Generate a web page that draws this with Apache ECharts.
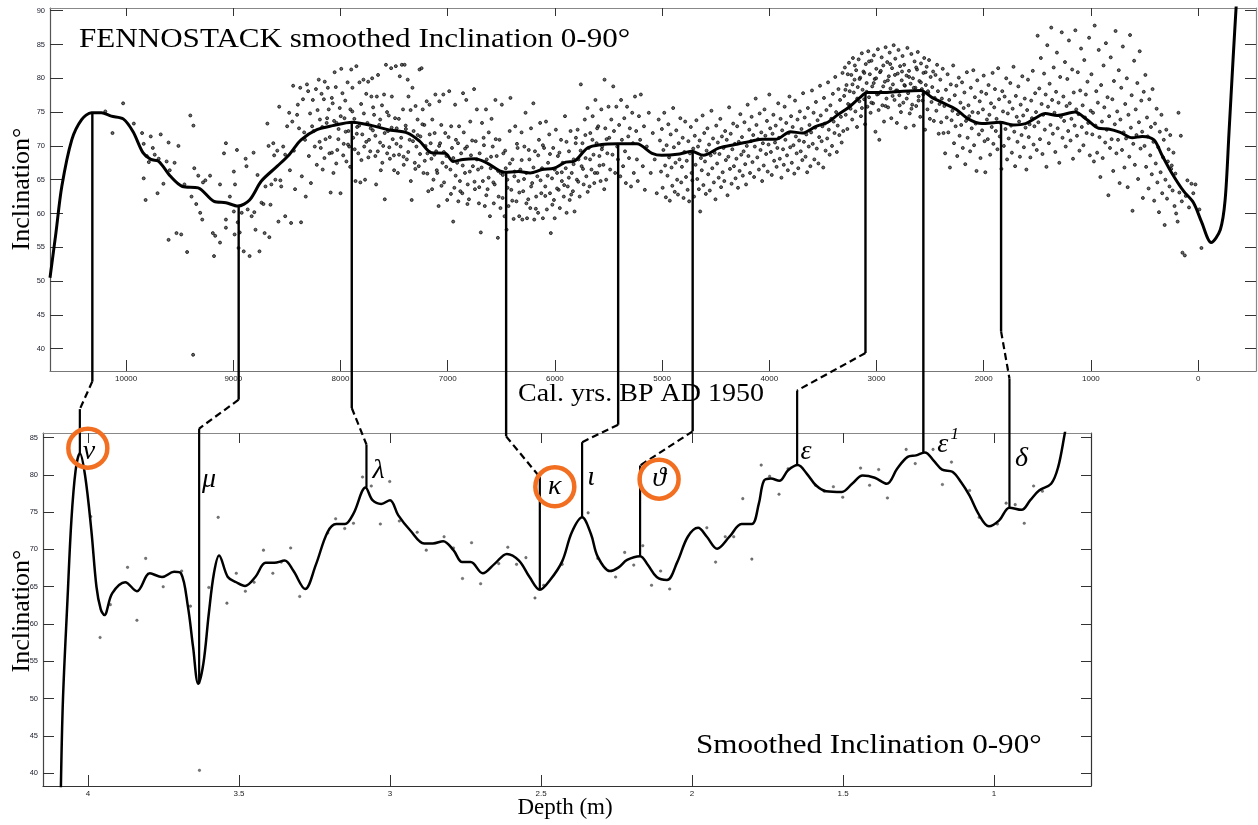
<!DOCTYPE html>
<html>
<head>
<meta charset="utf-8">
<script src="https://cdn.jsdelivr.net/npm/echarts@6/dist/echarts.min.js"></script>
<style>
html,body{margin:0;padding:0;background:#fff;}
#chart{width:1258px;height:825px;}
</style>
</head>
<body>
<div id="chart"></div>
<script>
// ---- axis ticks ----
const ageTicks = [10000, 9000, 8000, 7000, 6000, 5000, 4000, 3000, 2000, 1000, 0];
const depthTicks = [4, 3.5, 3, 2.5, 2, 1.5, 1];
const stackIncTicks = [40, 45, 50, 55, 60, 65, 70, 75, 80, 85, 90];
const coreIncTicks = [40, 45, 50, 55, 60, 65, 70, 75, 80, 85];

// ---- FENNOSTACK: smoothed inclination (cal. yrs BP, inclination) ----
const stackCurve = [[10710,50.5],[10655,57.1],[10600,64],[10507,70.9],[10415,73.9],[10323,74.9],[10230,74.9],[10138,74.4],[10027,74],[9935,72.1],[9843,69],[9770,68],[9696,67.7],[9586,65.5],[9475,64],[9328,63.8],[9180,61.8],[9069,61.6],[8958,61.1],[8848,62],[8738,64.8],[8590,67],[8479,68.7],[8368,70.9],[8220,72.4],[8073,73],[7889,73.5],[7705,73],[7557,72.4],[7373,71.9],[7262,70.7],[7152,69],[7023,68.9],[6949,67.7],[6857,68],[6746,68.1],[6636,67.5],[6470,66.1],[6340,66.2],[6230,66],[6119,66.5],[6009,66.7],[5898,67.6],[5824,67.7],[5696,69.7],[5566,70.2],[5418,70.3],[5235,70.3],[5094,68.9],[5003,68.6],[4837,68.8],[4726,69.2],[4615,68.6],[4468,69.7],[4320,70.2],[4172,70.7],[4062,71],[3933,71],[3804,72.1],[3693,71.9],[3564,72.9],[3454,73.5],[3362,74.6],[3251,75.8],[3159,77.1],[3085,77.9],[2920,77.9],[2754,78.1],[2588,78.2],[2477,77.1],[2384,76.4],[2256,75.4],[2145,74],[2016,73.3],[1850,73.5],[1721,73.1],[1610,73.3],[1518,74.1],[1426,74.8],[1315,74.5],[1149,75],[1039,73.9],[928,72.6],[836,72.5],[726,72],[615,71.2],[522,71.4],[412,70.9],[339,68.7],[246,66],[135,63.3],[43,61.6],[-31,58.8],[-122,55.7],[-207,57.6],[-252,62],[-288,71.9],[-326,82.8],[-360,92]];

// ---- FENNOSTACK: individual inclination values ----
const stackPoints = [[10194,75.1],[10028,76.3],[10127,71.9],[9928,73.3],[9851,71.9],[9836,70.3],[9836,65.2],[9818,62.0],[9770,71.4],[9751,69.7],[9733,68.7],[9807,68.5],[9788,67.6],[9696,68.1],[9677,71.7],[9707,63.0],[9652,64.4],[9622,67.7],[9604,70.5],[9593,66.4],[9604,56.1],[9548,67.5],[9530,57.1],[9512,70.0],[9486,56.9],[9456,64.3],[9431,54.3],[9401,74.5],[9390,62.5],[9375,39.1],[9372,73.0],[9364,66.7],[9346,61.4],[9327,65.6],[9309,60.1],[9290,59.1],[9283,64.6],[9261,64.9],[9217,65.6],[9191,57.1],[9180,53.7],[9169,56.7],[9124,55.7],[9124,64.3],[9087,68.9],[9069,70.4],[9069,59.1],[9069,57.9],[9032,62.5],[8995,66.2],[8995,60.3],[8988,56.9],[8984,64.3],[8966,69.4],[8959,58.7],[8951,54.9],[8940,57.2],[8922,60.1],[8903,54.4],[8885,68.1],[8877,67.0],[8866,60.6],[8848,53.7],[8829,59.6],[8811,69.0],[8804,60.2],[8793,57.6],[8774,65.7],[8756,54.4],[8737,61.6],[8719,61.4],[8708,57.1],[8700,64.0],[8682,73.3],[8671,70.0],[8664,56.5],[8653,61.3],[8645,64.3],[8627,70.4],[8619,68.6],[8608,65.0],[8590,69.3],[8579,58.8],[8572,75.8],[8561,64.9],[8553,64.0],[8535,69.9],[8516,59.6],[8516,68.7],[8498,72.9],[8479,74.9],[8472,66.4],[8461,58.6],[8450,73.6],[8442,78.9],[8435,69.3],[8424,63.6],[8405,74.6],[8398,76.1],[8387,72.6],[8376,78.6],[8368,58.7],[8361,65.5],[8350,76.9],[8339,72.0],[8331,70.9],[8324,62.5],[8313,79.1],[8302,78.1],[8295,68.5],[8284,74.8],[8276,64.5],[8265,72.9],[8258,76.8],[8251,72.2],[8240,69.9],[8229,78.4],[8221,67.2],[8214,75.3],[8203,79.8],[8192,73.9],[8184,69.7],[8177,77.7],[8166,66.5],[8155,76.9],[8147,79.5],[8140,71.0],[8129,73.4],[8118,78.6],[8110,75.4],[8103,68.9],[8092,63.1],[8081,77.1],[8073,76.3],[8066,66.0],[8055,80.9],[8044,78.7],[8037,73.4],[8030,69.4],[8018,72.5],[8007,75.6],[8000,63.0],[7993,81.4],[7982,77.8],[7970,70.3],[7963,74.1],[7956,76.7],[7945,67.7],[7934,79.4],[7926,72.2],[7919,69.9],[7908,75.4],[7900,81.3],[7889,78.6],[7882,71.2],[7871,74.0],[7860,64.8],[7852,81.8],[7845,72.8],[7834,68.9],[7823,79.4],[7815,64.6],[7808,76.2],[7797,71.7],[7786,79.8],[7779,69.9],[7771,65.0],[7760,77.7],[7749,73.4],[7742,79.5],[7734,70.9],[7723,69.2],[7712,77.3],[7705,80.0],[7698,72.3],[7687,74.6],[7675,68.5],[7668,64.3],[7661,77.3],[7650,80.5],[7639,73.1],[7631,70.5],[7624,66.4],[7613,76.0],[7602,70.0],[7594,77.6],[7587,62.1],[7576,82.0],[7565,68.9],[7557,72.2],[7550,74.5],[7539,68.1],[7528,81.5],[7521,77.3],[7513,71.0],[7502,68.6],[7491,74.1],[7484,81.8],[7476,72.6],[7465,66.0],[7454,68.7],[7447,80.3],[7439,69.9],[7428,82.0],[7417,75.4],[7410,67.2],[7402,82.0],[7392,73.0],[7381,68.0],[7373,79.8],[7366,77.3],[7355,70.9],[7344,64.8],[7336,62.0],[7329,78.6],[7318,72.2],[7307,67.5],[7300,75.9],[7292,69.9],[7281,73.9],[7270,67.0],[7263,81.3],[7255,71.4],[7244,81.5],[7233,75.4],[7226,66.0],[7218,73.1],[7207,70.0],[7196,76.6],[7189,68.9],[7181,63.3],[7170,76.1],[7159,70.4],[7152,68.1],[7144,73.9],[7133,65.0],[7122,71.9],[7115,77.6],[7108,69.2],[7097,66.0],[7085,61.1],[7078,76.6],[7071,70.4],[7060,73.1],[7049,67.5],[7041,77.6],[7034,64.6],[7023,71.9],[7012,68.5],[7005,62.0],[6986,78.1],[6975,66.5],[6968,72.9],[6960,69.7],[6949,58.8],[6938,63.8],[6931,76.1],[6923,70.9],[6912,67.5],[6901,61.8],[6894,72.9],[6886,64.8],[6875,68.9],[6864,63.0],[6857,77.8],[6850,72.0],[6839,66.0],[6827,76.8],[6820,69.9],[6813,64.3],[6802,62.1],[6790,73.6],[6783,68.6],[6765,67.0],[6754,78.4],[6746,63.6],[6739,70.7],[6728,75.4],[6717,66.5],[6709,61.5],[6702,68.9],[6691,57.2],[6680,73.4],[6672,64.8],[6665,71.2],[6654,61.1],[6643,75.4],[6636,68.0],[6628,63.6],[6617,72.0],[6606,59.6],[6599,66.7],[6591,74.0],[6580,69.9],[6570,61.5],[6562,64.3],[6555,76.8],[6543,68.5],[6532,56.4],[6525,62.5],[6517,70.9],[6506,66.0],[6495,76.1],[6488,62.3],[6481,68.9],[6470,59.6],[6459,66.7],[6451,57.6],[6444,65.0],[6433,61.1],[6422,72.2],[6415,77.1],[6407,63.5],[6396,68.0],[6385,59.2],[6378,65.5],[6370,72.9],[6359,61.8],[6348,69.7],[6341,64.8],[6333,59.6],[6322,66.5],[6311,72.0],[6304,59.1],[6296,63.3],[6285,69.9],[6274,74.9],[6267,66.0],[6260,59.3],[6249,62.1],[6238,68.0],[6230,60.8],[6223,72.6],[6212,64.5],[6201,76.3],[6193,59.1],[6186,69.2],[6175,62.5],[6164,65.5],[6157,60.1],[6149,70.9],[6138,73.4],[6127,63.0],[6120,66.7],[6112,59.3],[6101,69.7],[6090,64.0],[6083,73.6],[6075,60.6],[6064,67.5],[6053,71.7],[6046,63.0],[6038,57.1],[6027,65.2],[6016,69.7],[6009,62.0],[6002,59.3],[5991,72.4],[5980,66.0],[5972,68.5],[5965,63.5],[5954,60.8],[5943,70.9],[5935,64.8],[5928,67.5],[5917,62.5],[5906,74.4],[5899,66.7],[5891,60.1],[5880,64.0],[5869,69.2],[5862,62.0],[5854,72.2],[5843,66.0],[5832,63.3],[5825,68.0],[5817,60.3],[5806,70.4],[5795,65.0],[5788,72.4],[5780,68.0],[5769,62.5],[5758,79.1],[5751,67.0],[5743,70.4],[5732,64.3],[5721,73.9],[5714,68.2],[5707,65.5],[5696,75.6],[5685,69.7],[5677,64.0],[5670,71.9],[5659,66.5],[5648,74.4],[5640,68.7],[5633,64.5],[5622,76.8],[5611,70.4],[5604,66.0],[5596,72.9],[5585,68.5],[5574,64.8],[5567,75.4],[5559,69.9],[5548,67.2],[5537,79.8],[5530,72.6],[5522,65.0],[5511,68.9],[5500,75.8],[5493,71.2],[5485,66.5],[5474,73.9],[5463,68.7],[5456,78.8],[5449,72.2],[5438,66.0],[5427,75.8],[5419,69.9],[5412,68.0],[5401,73.1],[5390,65.5],[5383,76.8],[5375,70.9],[5364,67.0],[5353,74.1],[5346,69.2],[5338,64.5],[5327,75.8],[5316,71.4],[5309,68.2],[5301,72.6],[5290,64.0],[5279,74.9],[5272,70.4],[5264,66.0],[5253,77.3],[5242,72.2],[5235,68.0],[5227,64.8],[5216,74.4],[5205,70.9],[5198,77.6],[5180,67.0],[5169,72.9],[5161,63.5],[5143,69.9],[5124,74.9],[5106,66.0],[5087,71.9],[5069,68.0],[5050,63.0],[5032,73.9],
[5020,70.8],[5010,66.2],[5002,72.5],[4995,63.8],[4988,69.4],[4980,74.9],[4972,67.1],[4965,62.4],[4958,70.1],[4950,65.6],[4942,73.2],[4935,68.3],[4928,61.9],[4920,71.7],[4912,66.8],[4905,64.1],[4897,75.6],[4890,69.8],[4882,63.2],[4875,67.5],[4868,72.3],[4860,65.0],[4852,62.8],[4845,70.4],[4838,68.0],[4830,74.1],[4822,64.6],[4815,66.9],[4808,71.2],[4800,62.3],[4792,69.1],[4785,73.6],[4777,65.4],[4770,67.8],[4762,63.5],[4755,70.7],[4748,61.8],[4740,68.9],[4732,72.8],[4725,66.0],[4718,64.9],[4710,69.6],[4702,62.5],
[4695,71.5],[4688,67.2],[4680,73.8],[4672,65.1],[4665,69.9],[4657,63.6],[4650,70.8],[4645,60.3],[4638,68.2],[4630,66.4],[4622,74.5],[4615,64.2],[4607,71.9],[4600,67.7],[4592,62.9],[4585,69.3],[4577,72.6],[4570,65.8],[4562,70.2],[4555,63.4],[4547,68.6],[4540,75.2],[4532,66.7],[4525,71.1],[4517,64.6],[4510,69.0],[4502,62.1],[4495,73.0],[4487,67.4],[4480,70.5],[4472,65.3],[4465,68.8],[4457,74.0],[4450,63.9],[4442,71.4],[4435,66.1],[4427,69.7],[4420,64.8],[4412,72.2],[4405,67.9],[4397,70.9],[4390,62.7],[4382,68.4],[4375,75.7],[4367,66.6],[4360,71.8],[4352,64.4],[4345,69.5],[4337,73.3],[4330,67.0],[4322,70.3],[4315,65.2],[4307,68.1],[4300,72.9],[4292,63.8],[4285,70.6],[4277,66.3],[4270,74.7],[4262,68.7],[4255,71.3],[4247,65.6],[4240,69.2],[4232,73.5],[4225,67.3],[4217,64.3],[4210,70.0],
[4202,76.1],[4195,68.5],[4187,72.4],[4180,66.0],[4172,70.7],[4165,74.3],[4157,67.6],[4150,71.6],[4142,65.4],[4135,69.9],[4127,77.0],[4120,73.1],[4112,68.3],[4105,71.0],[4097,66.5],[4090,74.8],[4082,69.4],[4075,72.0],[4067,64.8],[4060,70.4],[4052,67.1],[4045,75.4],[4037,71.5],[4030,68.8],[4022,73.7],[4015,66.2],[4007,70.2],[4000,77.6],[3992,72.6],[3985,69.1],[3977,65.7],[3970,71.8],[3962,74.6],[3955,67.8],[3947,70.5],[3940,73.0],[3932,66.9],[3925,69.7],[3917,76.3],[3910,71.2],[3902,68.1],[3895,74.0],[3887,65.3],[3880,72.3],[3872,69.5],[3865,67.2],[3857,75.8],[3850,70.9],[3842,73.4],[3835,68.6],[3827,66.4],[3820,71.9],[3812,77.3],[3805,69.8],[3797,74.4],[3790,67.5],[3782,72.8],[3775,70.1],[3767,65.9],[3760,76.7],[3752,71.4],[3745,68.9],[3737,73.9],[3730,66.7],[3722,70.8],[3715,75.1],[3707,69.2],[3700,72.5],[3692,67.9],[3685,77.8],[3677,70.6],[3670,74.2],[3662,68.4],[3655,71.7],[3647,66.1],[3640,75.6],[3632,69.9],[3625,73.1],[3617,67.0],[3610,72.0],
[3602,78.2],[3595,70.3],[3587,74.9],[3580,68.0],[3572,72.7],[3565,76.5],[3557,69.6],[3550,73.8],[3542,67.4],[3535,71.3],[3527,78.9],[3520,74.5],[3512,70.7],[3505,72.9],[3497,66.8],[3490,77.1],[3482,73.3],[3475,69.3],[3467,75.3],[3460,71.1],[3452,79.4],[3445,72.4],[3437,68.7],[3430,76.0],[3422,74.0],[3415,70.0],[3407,77.7],[3400,73.6],[3392,71.9],[3385,80.2],[3377,75.0],[3370,69.1],[3362,73.0],[3355,78.4],[3347,71.6],[3340,76.8],[3332,74.3],[3325,70.5],[3317,80.8],[3310,72.2],
[3302,77.4],[3295,81.6],[3287,74.6],[3280,79.0],[3272,72.5],[3265,76.2],[3257,82.3],[3250,78.1],[3242,75.5],[3235,80.5],[3227,73.9],[3220,83.0],[3212,77.9],[3205,79.8],[3197,75.1],[3190,81.2],[3182,72.8],[3175,78.7],[3167,82.8],[3160,76.6],[3152,80.1],[3145,74.4],[3137,83.7],[3130,78.3],[3122,81.0],[3115,76.9],[3107,73.2],[3100,82.1],[3092,79.3],[3085,75.8],[3077,84.0],[3070,77.2],[3062,80.6],[3055,74.9],[3047,82.6],[3040,78.8],[3032,76.3],[3025,83.4],[3017,79.9],[3010,72.1],[3002,81.4],[2995,77.6],[2987,84.3],[2980,75.3],[2974,70.9],[2967,80.9],[2960,78.0],[2952,83.1],[2945,76.0],[2937,81.9],[2930,73.6],[2922,79.5],[2915,84.6],[2907,77.0],[2900,82.4],[2892,75.7],[2885,80.3],[2877,83.8],[2870,78.5],[2862,74.1],[2855,81.5],[2847,79.1],[2840,84.9],[2832,76.8],[2825,82.9],[2817,78.2],[2810,73.4],[2802,80.7],[2795,84.2],[2787,77.5],[2780,81.8],[2772,75.0],[2765,79.7],[2757,83.3],[2750,76.4],[2742,82.0],[2735,78.9],[2727,72.7],[2720,80.4],[2712,84.5],[2705,77.8],[2697,81.1],[2690,74.8],[2682,79.2],[2675,83.6],[2667,76.1],[2660,80.0],[2652,73.0],[2645,82.5],[2637,78.6],[2630,75.9],[2622,81.3],[2615,83.9],[2607,77.3],[2600,79.6],[2592,74.3],[2585,82.2],[2577,78.4],[2570,76.7],[2562,80.8],[2555,83.0],[2547,72.4],[2540,79.0],[2532,81.7],[2525,75.4],[2517,77.9],[2510,82.7],[2502,74.0],[2495,80.2],[2487,76.5],[2480,78.7],[2472,81.0],[2465,73.7],[2457,77.1],[2450,80.5],[2442,75.2],[2435,82.0],[2427,78.1],[2420,71.8],[2412,76.2],
[2405,79.8],[2397,73.5],[2390,77.0],[2382,81.4],[2375,71.9],[2367,75.9],[2360,68.9],[2352,78.3],[2345,74.2],[2337,80.6],[2330,72.0],[2322,76.8],[2315,66.8],[2307,79.1],[2300,73.8],[2292,75.2],[2285,81.9],[2277,70.4],[2270,77.5],[2262,72.9],[2255,78.9],[2247,68.5],[2240,74.7],[2232,80.1],[2225,71.5],[2217,76.4],[2210,73.1],[2202,79.4],[2195,69.7],[2187,75.6],[2180,77.9],[2172,67.3],[2165,73.7],[2157,80.9],[2150,71.2],[2142,76.0],[2135,74.4],[2127,69.2],[2120,78.6],[2112,72.6],[2105,75.0],[2097,81.2],[2090,70.1],[2082,77.2],[2075,73.3],[2067,66.3],[2060,79.7],[2052,74.9],[2045,71.7],[2037,76.6],[2030,68.2],[2022,78.0],[2015,72.3],[2007,75.4],[2000,80.4],[1992,70.7],[1985,66.1],[1977,77.7],[1970,73.9],[1962,71.0],[1955,79.0],[1947,74.6],[1940,68.7],[1932,76.3],[1925,72.8],[1917,80.8],[1910,70.3],
[1902,75.7],[1895,78.4],[1887,72.2],[1880,74.0],[1872,69.5],[1865,81.5],[1857,76.9],[1850,71.4],[1842,73.4],[1835,66.6],[1827,78.1],[1820,75.1],[1812,70.0],[1805,77.3],[1797,72.5],[1790,80.0],[1782,68.0],[1775,74.8],[1767,71.1],[1760,76.5],[1752,79.3],[1745,73.0],[1737,69.0],[1730,75.5],[1722,81.7],[1715,72.1],[1707,67.0],[1700,77.4],[1692,74.3],[1685,70.6],[1677,78.8],[1670,73.6],[1662,68.4],[1655,76.1],[1647,71.6],[1640,80.3],[1632,74.5],[1625,69.8],[1617,77.0],[1610,72.7],[1602,66.5],[1595,75.3],[1587,79.8],[1580,71.3],[1572,73.2],[1565,68.3],[1557,76.7],[1550,74.1],[1542,81.1],[1535,70.2],[1527,72.9],[1520,77.8],
[1512,75.0],[1505,69.4],[1497,86.3],[1490,73.5],[1482,78.5],[1475,71.0],[1467,83.0],[1460,76.2],[1452,68.8],[1445,74.6],[1437,80.7],[1430,72.4],[1422,77.6],[1415,66.9],[1407,84.9],[1400,75.8],[1392,70.4],[1385,79.2],[1377,73.1],[1370,87.5],[1362,76.8],[1355,71.8],[1347,81.6],[1340,74.9],[1332,69.1],[1325,78.0],[1317,83.8],[1310,72.6],[1302,76.4],[1295,67.5],[1287,80.2],[1280,74.3],[1272,86.8],[1265,71.2],[1257,77.3],[1250,73.7],[1242,82.4],[1235,69.9],[1227,75.9],[1220,79.9],[1212,72.2],[1205,85.6],[1197,76.3],[1190,70.8],[1182,74.0],[1175,81.3],[1167,68.1],[1160,77.9],[1152,73.0],[1145,87.1],[1137,75.4],[1130,71.5],[1122,80.9],[1115,74.7],[1107,69.3],[1100,78.2],[1092,84.4],[1085,72.8],[1077,76.0],[1070,70.1],[1062,82.7],[1055,74.2],[1047,77.6],[1040,71.9],[1032,79.5],[1025,73.4],[1017,86.0],[1010,68.6],[1002,75.2],
[995,80.6],[987,71.7],[980,74.9],[972,67.7],[965,87.8],[957,73.0],[950,78.1],[942,69.0],[935,76.4],[927,84.2],[920,71.3],[912,65.4],[905,79.0],[897,73.6],[890,68.2],[882,81.9],[875,75.7],[867,70.5],[860,85.2],[852,72.4],[845,77.2],[837,62.7],[830,74.4],[822,69.7],[815,83.1],[807,71.0],[800,76.9],[792,66.3],[785,79.6],[777,73.2],[770,87.0],[762,68.9],[755,75.1],[747,70.9],[740,81.2],[732,64.5],[725,73.9],[717,78.6],[710,69.4],[702,84.7],[695,72.0],[687,66.8],[680,76.2],[672,71.1],[665,80.0],[657,63.9],[650,74.6],[642,68.4],[635,86.4],[627,72.7],[620,77.5],[612,60.4],[605,70.3],[597,82.6],[590,67.2],[582,75.4],[575,71.6],[567,79.3],[560,65.1],[552,73.5],[545,84.0],[537,69.6],[530,76.7],[522,72.1],[515,62.3],[507,78.0],
[500,70.0],[492,80.5],[485,66.9],[477,74.2],[470,71.4],[462,63.7],[455,76.9],[447,68.6],[440,72.8],[432,65.8],[425,78.4],[417,70.6],[410,61.9],[402,73.3],[395,67.4],[387,75.5],[380,64.6],[372,69.8],[365,60.2],[357,72.1],[350,66.1],[342,74.6],[335,63.0],[327,68.3],[320,70.9],[312,58.3],[305,65.0],[297,72.4],[290,62.2],[282,67.7],[275,69.5],[267,64.0],[260,71.6],[252,66.6],[246,67.1],[238,63.4],[230,69.0],[220,61.1],[212,65.9],[205,60.0],[191,58.8],[183,74.9],[175,63.1],[161,71.5],[152,61.8],[146,54.2],[124,53.8],[115,62.6],[100,64.9],[85,60.9],[62,64.4],[45,63.0],[25,64.3],[-12,60.6],[-31,54.9],
[8195,70.6],[8170,72.8],[8150,68.2],[8125,74.1],[8100,71.3],[8080,69.0],[8060,73.7],[8040,67.4],[8020,71.0],[7998,74.4],[7975,68.6],[7952,72.1],[7930,70.2],[7910,66.9],[7890,75.1],[7868,69.5],[7848,71.8],[7826,73.0],[7805,67.9],[7782,74.8],[7760,70.6],[7740,68.3],[7718,72.6],[7696,75.7],[7675,71.5],[7652,69.2],[7630,73.9],[7610,67.5],[7588,71.9],[7566,75.0],[7545,69.8],[7523,72.7],[7500,66.4],[7478,70.3],[7456,74.0],[7434,71.2],[7412,68.4],[7390,72.5],[7368,69.1],[7346,75.3],[7324,70.7],[7302,66.6],[7280,71.6],[7258,68.8],[7236,73.2],[7214,67.8],
[7190,65.9],[7168,71.7],[7146,63.6],[7124,68.7],[7102,66.4],[7080,70.0],[7058,64.1],[7036,69.1],[7014,66.9],[6992,71.3],[6970,62.9],[6948,68.2],[6926,65.6],[6904,70.4],[6882,63.3],[6860,67.1],[6838,69.6],[6816,61.4],[6794,66.2],[6772,70.8],[6750,64.7],[6728,68.0],[6706,63.9],[6684,66.8],[6662,70.1],[6640,62.7],[6618,65.3],[6596,68.4],[6574,64.6],[6552,71.0],[6530,66.3],[6508,60.8],[6486,65.7],[6464,69.3],[6442,63.8],[6420,67.4],
[6398,61.9],[6376,66.2],[6354,70.3],[6332,63.1],[6310,67.9],[6288,65.1],[6266,61.5],[6244,69.4],[6222,64.0],[6200,66.8],[6178,60.7],[6156,68.6],[6134,64.9],[6112,70.1],[6090,62.6],[6068,65.6],[6046,68.8],[6024,61.3],[6002,66.5],[5980,63.7],[5958,69.0],[5936,66.1],[5914,64.2],[5892,70.6],[5870,65.3],[5848,62.8],[5826,67.3],[5804,71.2],[5782,64.7],[5760,69.3],[5738,66.6],[5716,71.6],[5694,63.2],[5672,68.0],[5650,70.9],[5628,66.0],[5606,72.6],[5584,67.1],[5562,69.5],[5540,63.6],[5518,71.0],
[3290,78.3],[3268,80.6],[3246,76.0],[3224,79.1],[3202,81.9],[3180,77.0],[3158,79.9],[3136,75.6],[3114,80.8],[3092,78.0],[3070,82.5],[3048,76.4],[3026,79.3],[3004,80.0],[2982,77.7],[2960,81.1],[2938,78.8],[2916,75.9],[2894,79.7],[2872,82.1],[2850,77.4],[2828,80.5],[2806,78.2],[2784,76.0],[2762,81.0],[2740,79.0],[2718,77.0],[2696,80.2],[2674,75.5],[2652,78.6],[2630,81.6],[2608,76.7],[2586,79.4],[2564,77.6],[2542,80.9],[2520,78.1]];

// ---- core: smoothed inclination (depth m, inclination) ----
const coreCurve = [[4.090,37.5],[4.083,49.8],[4.068,63.2],[4.055,73.9],[4.041,80.6],[4.027,82.9],[4.010,80],[3.989,72.6],[3.972,65],[3.958,62.0],[3.946,61.2],[3.920,64.1],[3.877,65.6],[3.838,64.4],[3.795,66.8],[3.755,66.3],[3.715,67],[3.692,66.8],[3.669,62.3],[3.652,56.9],[3.635,52.0],[3.618,54.7],[3.600,61.4],[3.583,66.8],[3.566,69.2],[3.537,66.3],[3.509,65.6],[3.48,65.1],[3.446,66.3],[3.412,68.2],[3.383,68.2],[3.349,68.5],[3.321,67.2],[3.281,64.7],[3.246,67.9],[3.207,72.3],[3.178,73.4],[3.149,73.4],[3.121,74.8],[3.081,78.3],[3.058,76.6],[3.029,76.1],[3.0,76.6],[2.973,74.6],[2.932,72.5],[2.887,70.8],[2.858,70.8],[2.824,71.1],[2.79,69.9],[2.761,68.3],[2.733,68.3],[2.693,66.8],[2.653,68.1],[2.613,69.4],[2.573,68.5],[2.538,66.3],[2.504,64.6],[2.47,65.9],[2.43,68.4],[2.398,72.3],[2.364,74.3],[2.335,72.1],[2.312,69],[2.272,67.1],[2.243,67.6],[2.215,68.6],[2.172,69.1],[2.146,67.9],[2.117,66.3],[2.083,65.9],[2.049,68.3],[2.014,71.7],[1.98,72.9],[1.951,71.7],[1.917,70.1],[1.876,71.7],[1.836,73.4],[1.802,73.4],[1.779,76.1],[1.762,79.2],[1.739,79.5],[1.711,79.2],[1.682,80.6],[1.65,81.3],[1.619,80.1],[1.59,78.6],[1.556,77.8],[1.504,77.7],[1.47,78.8],[1.435,79.9],[1.395,79.6],[1.355,78.8],[1.321,80.8],[1.286,82.4],[1.258,82.6],[1.229,83.0],[1.2,81.9],[1.172,80.7],[1.138,80.4],[1.109,79.0],[1.081,77.2],[1.052,74.8],[1.017,73.1],[0.983,73.9],[0.949,75.6],[0.909,75.3],[0.88,76.6],[0.851,77.9],[0.811,78.8],[0.788,81],[0.766,85.5],[0.755,88]];

// ---- core: measured inclination ----
const corePoints = [[3.991,74.4],[3.96,58.2],[3.926,62.6],[3.869,67.6],[3.838,60.5],[3.809,68.8],[3.751,65.0],[3.69,67.1],[3.661,62.4],[3.631,40.4],[3.6,64.9],[3.569,74.3],[3.54,62.8],[3.509,66.8],[3.479,64.4],[3.45,65.6],[3.419,69.9],[3.388,66.8],[3.36,68.3],[3.329,70.2],[3.299,63.7],[3.206,72.2],[3.18,74.1],[3.15,72.8],[3.121,73.5],[3.091,79.7],[3.062,78.5],[3.032,73.4],[3.001,79.1],[2.969,73.8],[2.91,72.3],[2.88,69.9],[2.821,71.7],[2.79,70.2],[2.76,66.1],[2.73,70.9],[2.7,65.4],[2.64,68.1],[2.61,70.3],[2.581,68.0],[2.55,68.9],[2.52,63.5],[2.491,65.2],[2.43,68.0],[2.344,74.9],[2.312,68.8],[2.253,66.3],[2.223,69.6],[2.193,67.9],[2.163,70.5],[2.134,65.2],[2.104,67.1],[2.074,64.7],[1.951,72.9],[1.922,68.3],[1.89,71.7],[1.862,71.7],[1.832,76.8],[1.802,68.7],[1.771,81.3],[1.743,79.8],[1.712,77.4],[1.682,80.8],[1.591,78.6],[1.562,77.8],[1.532,78.4],[1.501,77.0],[1.442,80.9],[1.412,78.6],[1.382,80.7],[1.353,76.9],[1.291,83.4],[1.261,81.5],[1.202,83.4],[1.171,78.7],[1.141,81.7],[1.081,77.9],[1.049,74.3],[0.989,73.4],[0.96,76.2],[0.93,76.0],[0.9,73.5],[0.869,78.5],[0.84,77.8]];

// ---- correlation tie points between the two records ----
const tieNames    = ['ν', 'μ', 'λ', 'κ', 'ι', 'ϑ', 'ε', 'ε', 'δ'];
const tieAge      = [10315, 8950, 7895, 6455, 5410, 4715, 3103, 2563, 1838];
const tieStackInc = [74.9, 61.1, 73.5, 66.1, 70.3, 69.2, 77.9, 78.2, 73.5];
const tieDepth    = [4.027, 3.632, 3.078, 2.504, 2.364, 2.172, 1.652, 1.233, 0.949];
const tieCoreInc  = [82.9, 52.0, 78.3, 64.6, 74.3, 69.1, 81.3, 83.0, 75.6];

// ---- layout of the tie connectors (where the dashed jog starts / ends) ----
const tieLayout = {
  jogStart: [35.16, 32.46, 31.23, 27.03, 28.76, 27.77, 39.36, null, 42.56], // in stack-axis units
  jogEnd:   [88.8, 86.2, 84.06, 79.69, 84.37, 81.25, 91.29, null, 92.9],   // in core-axis units
  tagOffset: [[9,-2],[10,-204],[12,-17],[15,-103],[9,-40],[19,-77],[9,-13],[19,-8],[12,-49]],
  ringOffset: {0:[8,-5], 3:[15,-103], 5:[19,-77]},
  superscript: {7: '1'}
};

const SERIF = '"Liberation Serif", "Times New Roman", serif';

function xAxis(grid, min, max, pos, ticks, showLabels, len, lineColor) {
  return {
    type: 'value', gridIndex: grid, min: min, max: max, inverse: true, position: pos,
    axisLine: { show: true, onZero: false, lineStyle: { color: lineColor, width: 1.2 } },
    axisTick: { show: true, inside: true, length: len, customValues: ticks, lineStyle: { color: '#333', width: 1 } },
    axisLabel: { show: showLabels, customValues: ticks, fontSize: 8, color: '#222', margin: 4,
      fontFamily: 'Arial, "Liberation Sans", sans-serif', formatter: v => String(v) },
    splitLine: { show: false }
  };
}
function yAxis(grid, min, max, pos, ticks, showLabels, len, lineColor) {
  return {
    type: 'value', gridIndex: grid, min: min, max: max, position: pos,
    axisLine: { show: true, onZero: false, lineStyle: { color: lineColor, width: 1.2 } },
    axisTick: { show: true, inside: true, length: len, customValues: ticks, lineStyle: { color: '#333', width: 1 } },
    axisLabel: { show: showLabels, customValues: ticks, fontSize: 7.5, color: '#223', margin: 5,
      fontFamily: 'Arial, "Liberation Sans", sans-serif', formatter: v => String(v) },
    splitLine: { show: false }
  };
}

const chart = echarts.init(document.getElementById('chart'), null, { renderer: 'canvas' });

chart.setOption({
  animation: false,
  backgroundColor: '#fff',
  grid: [
    { left: 50, right: 2, top: 8, bottom: 454 },
    { left: 43, right: 167, top: 433, bottom: 39 }
  ],
  xAxis: [
    xAxis(0, -540, 10710, 'bottom', ageTicks, true, 11, '#777'),
    xAxis(0, -540, 10710, 'top', ageTicks, false, 8, '#888'),
    xAxis(1, 0.679, 4.149, 'bottom', depthTicks, true, 11, '#333'),
    xAxis(1, 0.679, 4.149, 'top', depthTicks, false, 10, '#888')
  ],
  yAxis: [
    yAxis(0, 36.7, 90.4, 'left', stackIncTicks, true, 13, '#555'),
    yAxis(0, 36.7, 90.4, 'right', stackIncTicks, false, 11, '#888'),
    yAxis(1, 38.3, 85.6, 'left', coreIncTicks, true, 11, '#444'),
    yAxis(1, 38.3, 85.6, 'right', coreIncTicks, false, 10, '#333')
  ],
  series: [
    {
      type: 'scatter', xAxisIndex: 0, yAxisIndex: 0, data: stackPoints,
      symbol: 'circle', symbolSize: 3,
      itemStyle: { color: '#444', borderColor: '#000', borderWidth: 0.9 },
      silent: true, z: 2
    },
    {
      type: 'line', xAxisIndex: 0, yAxisIndex: 0, data: stackCurve,
      showSymbol: false, smooth: 0.3, clip: true,
      lineStyle: { color: '#000', width: 3 }, silent: true, z: 3
    },
    {
      type: 'scatter', xAxisIndex: 2, yAxisIndex: 2, data: corePoints,
      symbol: 'circle', symbolSize: 2.6,
      itemStyle: { color: '#555', borderColor: '#333', borderWidth: 0.4 },
      silent: true, z: 2
    },
    {
      type: 'line', xAxisIndex: 2, yAxisIndex: 2, data: coreCurve,
      showSymbol: false, smooth: 0.35, clip: true,
      lineStyle: { color: '#000', width: 2.5 }, silent: true, z: 3
    }
  ]
});

// ---- connectors, tie labels and text, positioned through the axes ----
const toStack = v => chart.convertToPixel({ seriesIndex: 1 }, v);
const toCore = v => chart.convertToPixel({ seriesIndex: 3 }, v);

const graphics = [];
const solid = (pts, w) => ({ type: 'polyline', silent: true, z: 50, shape: { points: pts },
  style: { stroke: '#000', lineWidth: w, fill: null, lineCap: 'butt', lineJoin: 'miter' } });
const dashed = (pts, w) => ({ type: 'polyline', silent: true, z: 50, shape: { points: pts },
  style: { stroke: '#000', lineWidth: w, fill: null, lineDash: [7, 4] } });

tieNames.forEach((name, i) => {
  const p0 = toStack([tieAge[i], tieStackInc[i]]);
  const p3 = toCore([tieDepth[i], tieCoreInc[i]]);
  if (tieLayout.jogStart[i] == null) {
    graphics.push(solid([p0, [p0[0], p3[1]]], 2.4));
  } else {
    const p1 = toStack([tieAge[i], tieLayout.jogStart[i]]);
    const p2 = toCore([tieDepth[i], tieLayout.jogEnd[i]]);
    graphics.push(solid([p0, p1], 2.4));
    graphics.push(dashed([p1, p2], 2.2));
    graphics.push(solid([p2, p3], 2.2));
  }
  const off = tieLayout.tagOffset[i];
  const tx = p3[0] + off[0], ty = p3[1] + off[1];
  graphics.push({ type: 'text', silent: true, z: 60, x: tx, y: ty,
    style: { text: name, font: 'italic 28px ' + SERIF, fill: '#000',
      align: 'center', verticalAlign: 'middle', textAlign: 'center', textVerticalAlign: 'middle' } });
  if (tieLayout.superscript[i]) {
    graphics.push({ type: 'text', silent: true, z: 60, x: tx + 12, y: ty - 10,
      style: { text: tieLayout.superscript[i], font: 'italic 17px ' + SERIF, fill: '#000',
        align: 'center', verticalAlign: 'middle', textAlign: 'center', textVerticalAlign: 'middle' } });
  }
  const ring = tieLayout.ringOffset[i];
  if (ring) {
    graphics.push({ type: 'circle', silent: true, z: 55,
      shape: { cx: p3[0] + ring[0], cy: p3[1] + ring[1], r: 19.5 },
      style: { stroke: '#F26F21', lineWidth: 4.5, fill: 'rgba(0,0,0,0)' } });
  }
});

// text blocks; the serif face is set a little wide, as in the printed figure
const textEl = (text, x, y, size, align, sx, rot) => ({
  type: 'text', silent: true, z: 60, x: x, y: y, rotation: rot || 0, scaleX: sx || 1,
  style: { text: text, font: size + 'px ' + SERIF, fill: '#000',
    align: align, verticalAlign: 'middle', textAlign: align, textVerticalAlign: 'middle' }
});

graphics.push(textEl('FENNOSTACK smoothed Inclination 0-90°', 79, 40, 28, 'left', 1.11));
graphics.push(textEl('Smoothed Inclination 0-90°', 696, 746, 28, 'left', 1.11));
graphics.push(textEl('Cal. yrs. BP AD 1950', 641, 394, 25, 'center', 1.12));
graphics.push(textEl('Depth (m)', 565, 808, 23, 'center', 1));
graphics.push(textEl('Inclination°', 22, 189, 26, 'center', 1, Math.PI / 2));
graphics.push(textEl('Inclination°', 22, 611, 26, 'center', 1, Math.PI / 2));

chart.setOption({ graphic: graphics });
</script>
</body>
</html>
